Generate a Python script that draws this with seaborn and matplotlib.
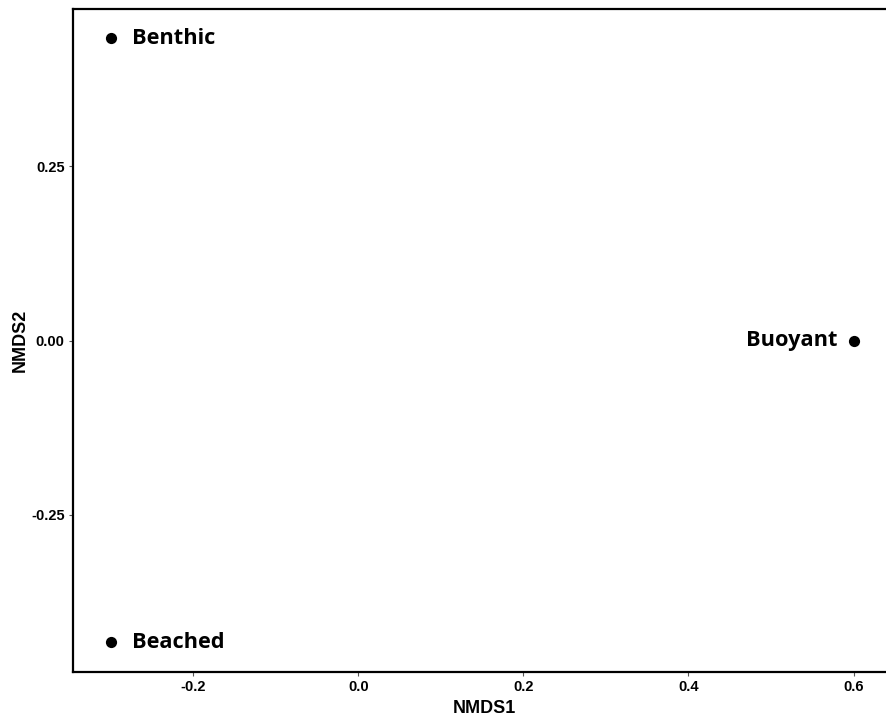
import numpy as np
import pandas as pd
import matplotlib.pyplot as plt
import seaborn as sns

# NMDS ordination scores
groups = ['Benthic', 'Beached', 'Buoyant']
nmds1 = [-0.30, -0.30, 0.601]
nmds2 = [0.434, -0.432, 0.0]

df = pd.DataFrame({'group': groups, 'NMDS1': nmds1, 'NMDS2': nmds2})

sns.set_style('white')
fig = plt.figure(figsize=(8.86, 7.19), dpi=100)
ax = fig.add_axes([73 / 886, 1 - 672 / 719, 1 - 73 / 886 + 0.01, (672 - 9) / 719])

sns.scatterplot(data=df, x='NMDS1', y='NMDS2', color='black', s=65, linewidth=0, ax=ax)

# labels to the right, except Buoyant on the left
for _, row in df.iterrows():
    if row['group'] == 'Buoyant':
        ax.annotate(row['group'], (row['NMDS1'], row['NMDS2']), xytext=(-12, 0),
                    textcoords='offset points', ha='right', va='center', color='black',
                    fontsize=15.7, fontweight='bold', family='Open Sans')
    else:
        ax.annotate(row['group'], (row['NMDS1'], row['NMDS2']), xytext=(15.5, -0.5),
                    textcoords='offset points', ha='left', va='center', color='black',
                    fontsize=15.7, fontweight='bold', family='Open Sans')

ax.set_xlim(-0.3455, 0.65)
ax.set_ylim(-0.475, 0.475)
ax.set_xticks([-0.2, 0.0, 0.2, 0.4, 0.6])
ax.set_xticklabels(['-0.2', '0.0', '0.2', '0.4', '0.6'])
ax.set_yticks([-0.25, 0.0, 0.25])
ax.set_yticklabels(['-0.25', '0.00', '0.25'])

for lab in ax.get_xticklabels() + ax.get_yticklabels():
    lab.set_fontweight('bold')
    lab.set_family('Liberation Sans')
    lab.set_fontsize(10.5)
    lab.set_color('black')

ax.tick_params(axis='both', length=3, width=0.8, color='#555555', pad=3)
ax.tick_params(left=True, bottom=True)

ax.set_xlabel('NMDS1', fontsize=13, fontweight='bold', family='Liberation Sans', color='black', labelpad=4)
ax.set_ylabel('NMDS2', fontsize=13, fontweight='bold', family='Liberation Sans', color='black', labelpad=2)

for side in ['left', 'bottom', 'top']:
    ax.spines[side].set_color('black')
    ax.spines[side].set_linewidth(1.6)
ax.spines['right'].set_visible(False)

fig.savefig('out.png', dpi=100)
